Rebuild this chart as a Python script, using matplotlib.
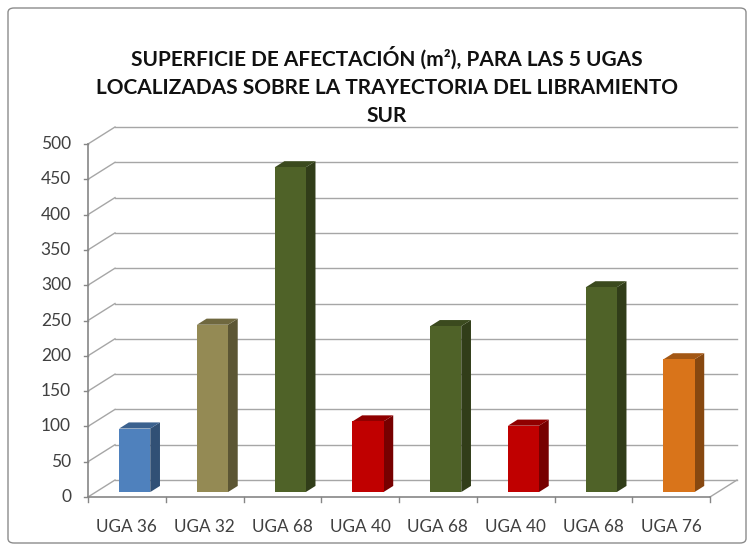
import matplotlib
matplotlib.use("Agg")
import matplotlib.pyplot as plt
from matplotlib.patches import Polygon, FancyBboxPatch
from matplotlib.colors import to_rgb
import numpy as np

plt.rcParams['font.family'] = ['Lato', 'DejaVu Sans']

categories = ["UGA 36", "UGA 32", "UGA 68", "UGA 40", "UGA 68", "UGA 40", "UGA 68", "UGA 76"]
values = [90, 237, 460, 100, 235, 94, 290, 188]
colors = ["#4F81BD", "#948A54", "#4F6228", "#C00000", "#4F6228", "#C00000", "#4F6228", "#D9741A"]
yticks = [0, 50, 100, 150, 200, 250, 300, 350, 400, 450, 500]
title = "SUPERFICIE DE AFECTACIÓN (m²), PARA LAS 5 UGAS\nLOCALIZADAS SOBRE LA TRAYECTORIA DEL LIBRAMIENTO\nSUR"

W, H = 753, 553
fig = plt.figure(figsize=(W / 100, H / 100), dpi=100)
ax = fig.add_axes([0, 0, 1, 1])

# pixel mapping (pixel x = 88 + 77.75*x ; pixel y from top = 497 - 0.706*v)
px_per_cat = 77.75
px_per_val = 0.706
ax.set_xlim(-88 / px_per_cat, (W - 88) / px_per_cat)
ax.set_ylim((497 - H) / px_per_val, 497 / px_per_val)
ax.axis("off")

n = len(categories)
DX = 27 / px_per_cat      # depth offset (category units)
DY = 17 / px_per_val      # depth offset (value units)
f0, f1 = 0.29, 0.65       # bar front / back depth fractions
grid_c = "#A6A6A6"
axis_c = "#868686"

# back wall gridlines + side wall diagonals
for v in yticks:
    ax.plot([DX, n + DX], [v + DY, v + DY], color=grid_c, lw=1.0, zorder=1)
    ax.plot([0, DX], [v, v + DY], color=grid_c, lw=1.0, zorder=1)
    # left ticks
    ax.plot([-4 / px_per_cat, 0], [v, v], color=axis_c, lw=1.0, zorder=2)
    ax.text(-17 / px_per_cat, v, str(v), ha="right", va="center",
            fontsize=12.5, color="#404040")

# floor right edge
ax.plot([n, n + DX], [0, DY], color=grid_c, lw=1.0, zorder=1)
# axes lines
ax.plot([0, 0], [0, yticks[-1]], color=axis_c, lw=1.2, zorder=2)
ax.plot([0, n], [0, 0], color=axis_c, lw=1.2, zorder=2)
for i in range(n + 1):
    ax.plot([i, i], [0, -7], color=axis_c, lw=1.0, zorder=2)

# bars
bw = 0.4
xs = np.arange(n) + 0.5 + f0 * DX
base = f0 * DY
ddx = (f1 - f0) * DX
ddy = (f1 - f0) * DY
ax.bar(xs, values, width=bw, bottom=base, color=colors, zorder=5, linewidth=0)
for x, v, c in zip(xs, values, colors):
    rgb = np.array(to_rgb(c))
    side = Polygon([(x + bw / 2, base), (x + bw / 2 + ddx, base + ddy),
                    (x + bw / 2 + ddx, base + v + ddy), (x + bw / 2, base + v)],
                   closed=True, facecolor=rgb * 0.62, edgecolor="none", zorder=4)
    top = Polygon([(x - bw / 2, base + v), (x - bw / 2 + ddx, base + v + ddy),
                   (x + bw / 2 + ddx, base + v + ddy), (x + bw / 2, base + v)],
                  closed=True, facecolor=rgb * 0.75, edgecolor="none", zorder=4)
    ax.add_patch(side)
    ax.add_patch(top)

# category labels
for i, lab in enumerate(categories):
    ax.text(i + 0.5, -42.5, lab, ha="center", va="center", fontsize=12.3, color="#404040")

# title
fig.text(387 / W, 1 - 86 / H, title, ha="center", va="center", fontsize=15,
         fontweight="bold", color="#111111", linespacing=1.5)

# outer border
border = FancyBboxPatch((8 / W, 10 / H), (746 - 8) / W, (545 - 10) / H,
                        boxstyle="round,pad=0,rounding_size=0.008",
                        transform=fig.transFigure, facecolor="none",
                        edgecolor="#8C8C8C", lw=1.0)
fig.patches.append(border)

fig.savefig("out.png", dpi=100)
